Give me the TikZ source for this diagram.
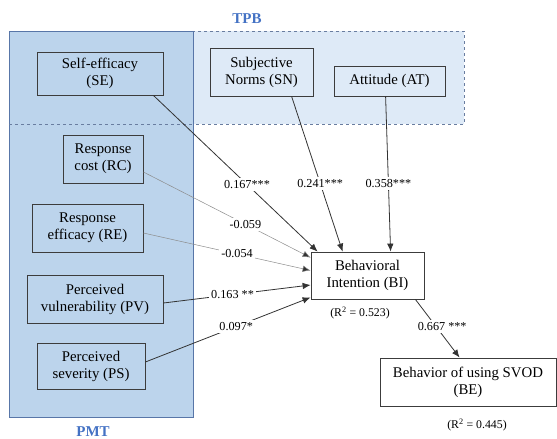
\documentclass[tikz,border=0pt]{standalone}
\usepackage{fontspec}
\setmainfont{Liberation Serif}
\usetikzlibrary{arrows.meta,calc}
\definecolor{pmtfill}{RGB}{188,212,236}
\definecolor{pmtline}{RGB}{88,118,168}
\definecolor{tpbfill}{RGB}{222,234,247}
\definecolor{tpbline}{RGB}{105,125,160}
\definecolor{grouptxt}{RGB}{68,114,196}
\definecolor{boxline}{RGB}{60,60,60}
\begin{document}
\begin{tikzpicture}[x=1pt,y=-1pt,
  cbox/.style={draw=boxline,line width=0.8pt,align=center,inner sep=0pt,font=\fontsize{14.8}{17}\selectfont},
  lbl/.style={fill=white,inner sep=2.5pt,font=\fontsize{12.2}{14}\selectfont},
  rsq/.style={font=\fontsize{11.8}{13}\selectfont},
  grp/.style={text=grouptxt,inner sep=0pt,font=\fontsize{15}{17}\selectfont\bfseries},
  arr/.style={draw=black!80,line width=0.8pt,-{Latex[length=8pt,width=6.5pt]}},
  weak/.style={draw=black!45,line width=0.5pt,-{Latex[length=8pt,width=6.5pt,fill=black!80]}}]
\useasboundingbox (0,0) rectangle (557,439);
% group boxes
\path[fill=tpbfill,draw=tpbline,dashed,line width=0.6pt] (193,31) rectangle (464,124);
\path[fill=pmtfill,draw=pmtline,line width=1pt] (9,31) rectangle (193,417);
\draw[tpbline,dashed,line width=0.6pt] (9,124) -- (193,124);
\node[grp] (TPB) at (247,19) {TPB};
\node[grp] (PMT) at (93,432) {PMT};
% construct boxes
\node[cbox,minimum width=126pt,minimum height=43pt] (SE) at (100,73.5) {Self-efficacy\\(SE)};
\node[cbox,minimum width=103pt,minimum height=48pt] (SN) at (261.5,72) {Subjective\\Norms (SN)};
\node[cbox,minimum width=111pt,minimum height=30pt] (AT) at (389.5,81) {Attitude (AT)};
\node[cbox,minimum width=80pt,minimum height=48pt] (RC) at (103,159) {Response\\cost (RC)};
\node[cbox,minimum width=111pt,minimum height=48pt] (RE) at (87.5,228) {Response\\efficacy (RE)};
\node[cbox,minimum width=136pt,minimum height=48pt] (PV) at (95,299) {Perceived\\vulnerability (PV)};
\node[cbox,minimum width=108pt,minimum height=46pt] (PS) at (91,366) {Perceived\\severity (PS)};
\node[cbox,fill=white,minimum width=113pt,minimum height=47pt] (BI) at (367.5,275.5) {Behavioral\\Intention (BI)};
\node[cbox,fill=white,minimum width=176pt,minimum height=48pt] (BE) at (468,382) {Behavior of using SVOD\\(BE)};
\node[rsq] (R1) at (360,313) {(R\textsuperscript{2} = 0.523)};
\node[rsq] (R2) at (477,425) {(R\textsuperscript{2} = 0.445)};
% paths
\draw[arr] ($(SE.south east)+(-10,0)$) -- node[lbl,pos=0.57]{0.167***} ($(BI.north west)+(7,0)$);
\draw[arr] ($(SN.south west)+(82,0)$) -- node[lbl,pos=0.56]{0.241***} ($(BI.north west)+(32,0)$);
\draw[arr] ($(AT.south west)+(52,0)$) -- node[lbl,pos=0.56]{0.358***} ($(BI.north west)+(80,0)$);
\draw[weak] ($(RC.east)+(0,13)$) -- node[lbl,pos=0.61]{-0.059} ($(BI.north west)+(0,6)$);
\draw[weak] ($(RE.east)+(0,5)$) -- node[lbl,pos=0.56]{-0.054} ($(BI.west)+(0,-5)$);
\draw[arr] ($(PV.east)+(0,4)$) -- node[lbl,pos=0.47]{0.163 **} ($(BI.west)+(0,9.5)$);
\draw[arr] ($(PS.east)+(0,-4)$) -- node[lbl,pos=0.55]{0.097*} ($(BI.south west)+(0,-2)$);
\draw[arr] ($(BI.south east)+(-9,0)$) -- node[lbl,pos=0.47,xshift=6pt]{0.667 ***} ($(BE.north west)+(80,0)$);
\end{tikzpicture}
\end{document}
